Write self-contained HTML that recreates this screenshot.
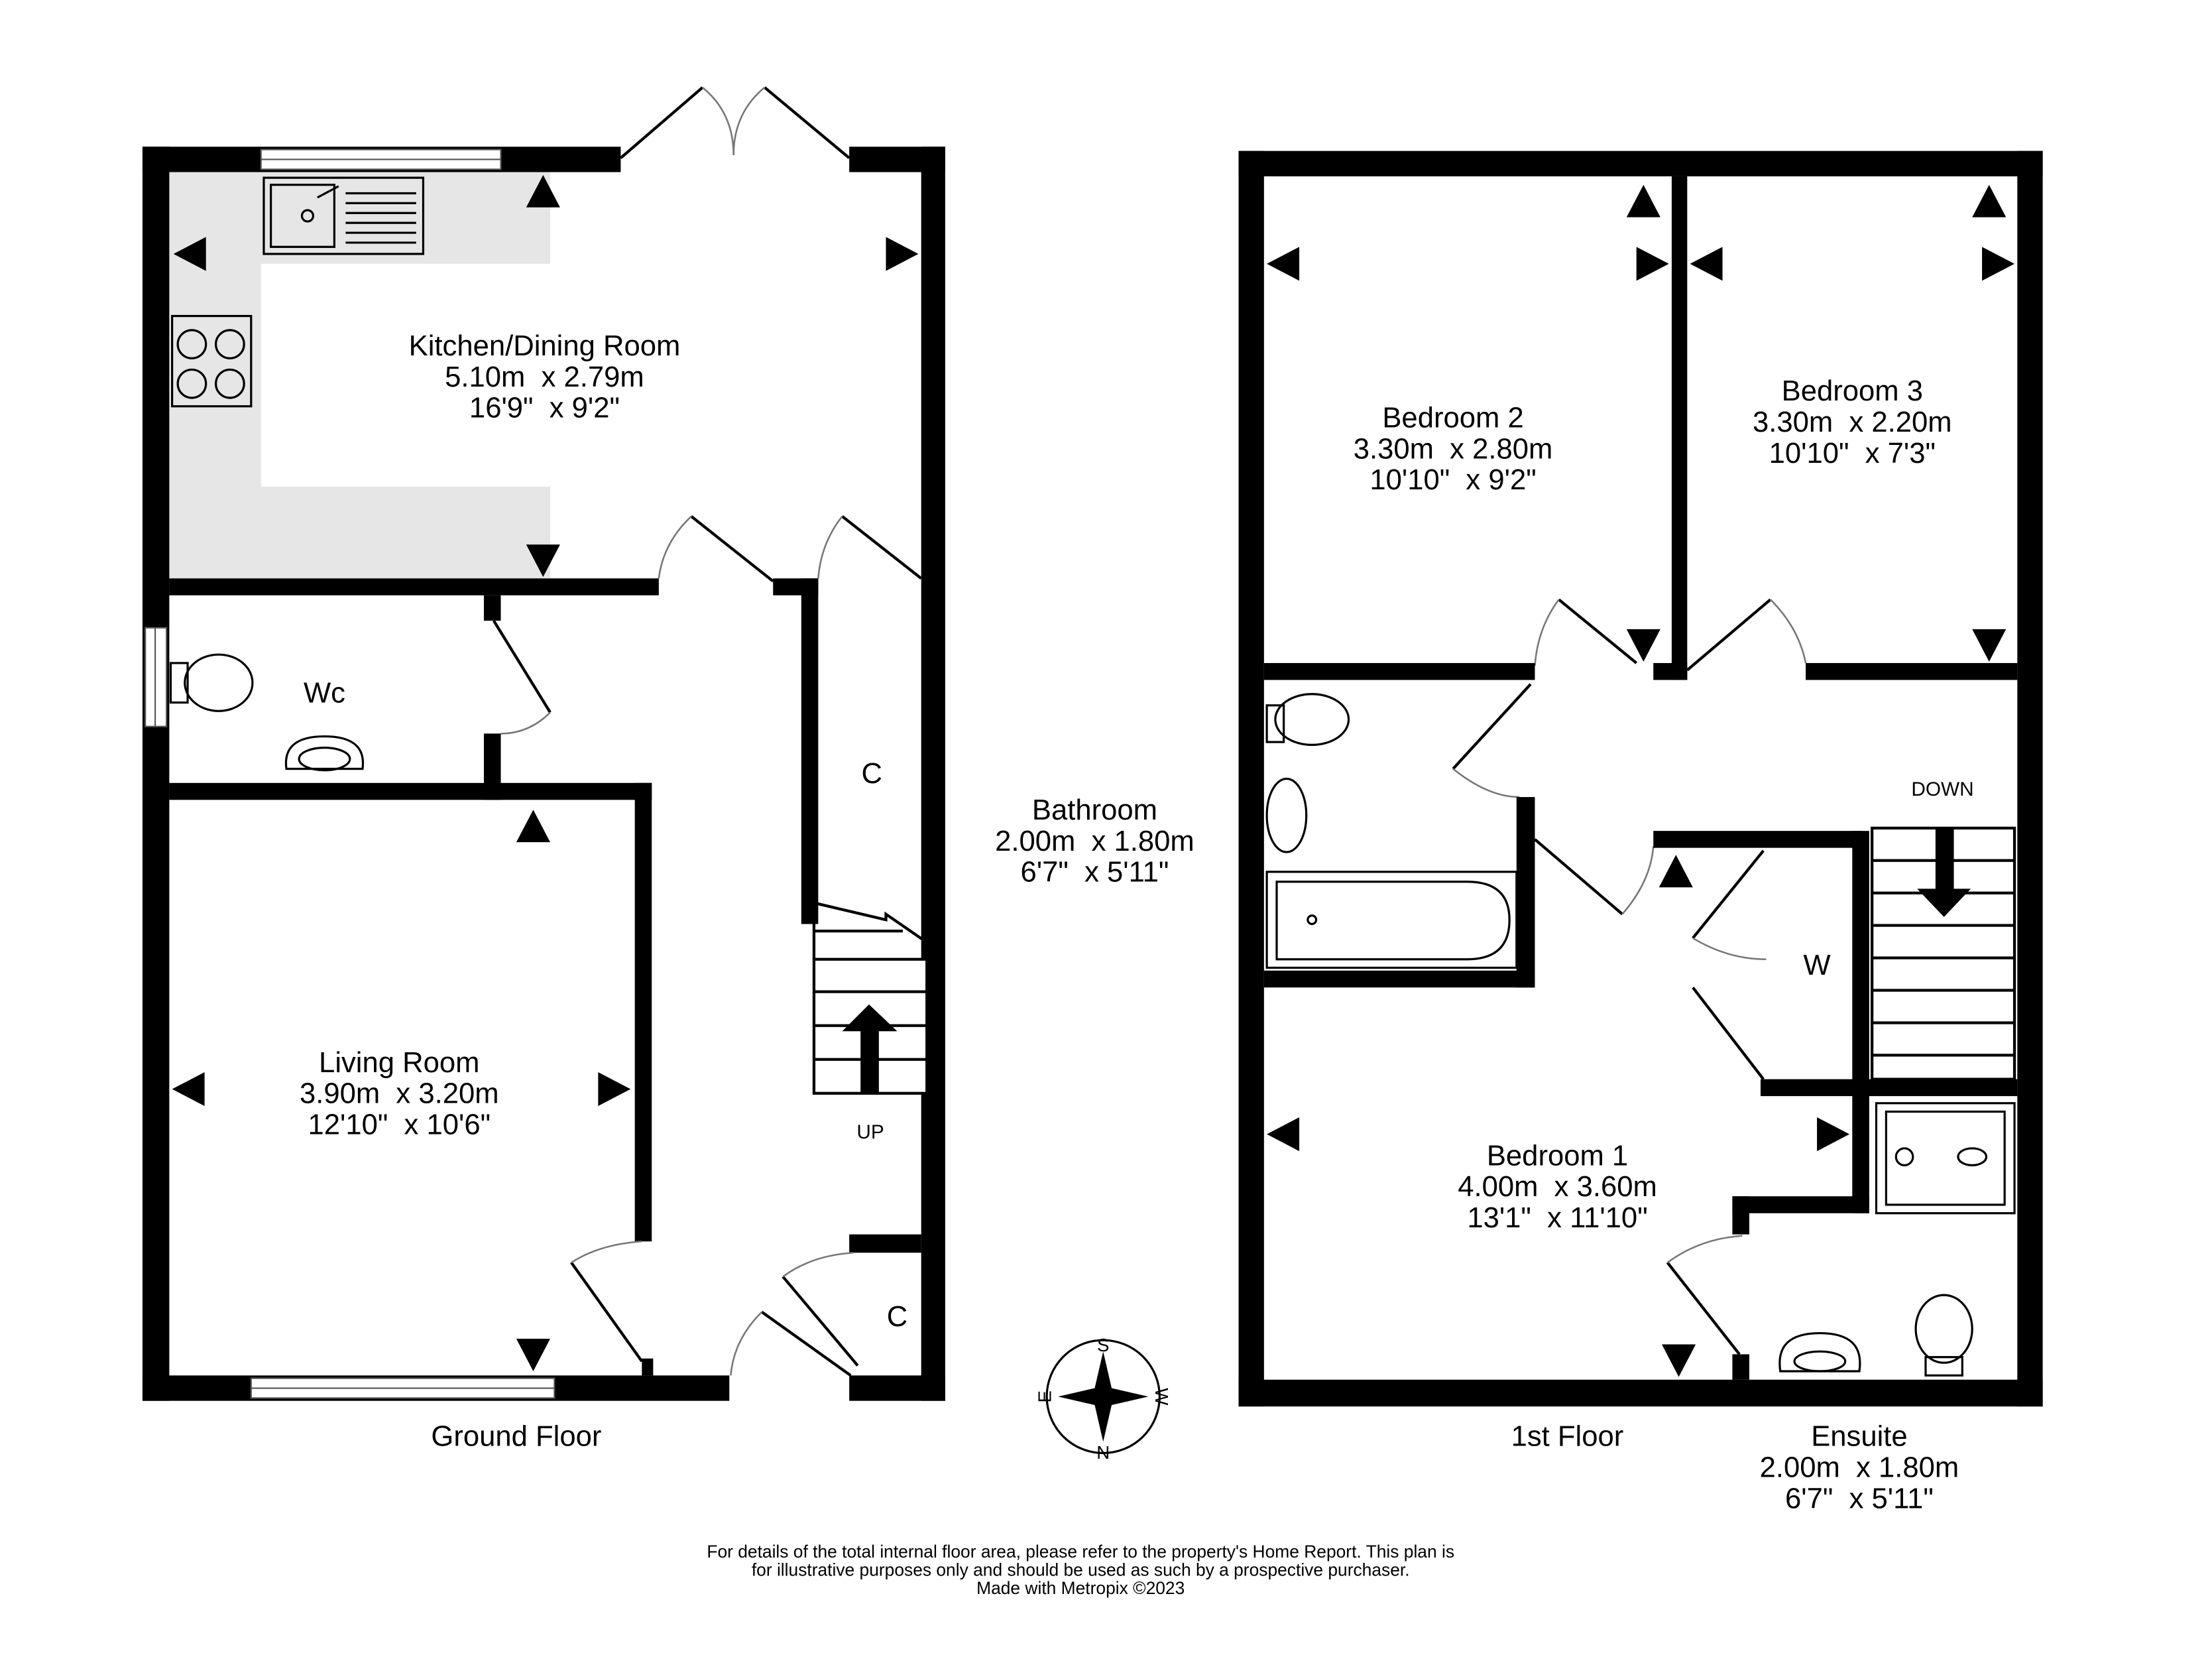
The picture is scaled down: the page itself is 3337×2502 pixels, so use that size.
<!DOCTYPE html>
<html><head><meta charset="utf-8"><style>
html,body{margin:0;padding:0;background:#fff;}
svg{display:block;}
text{font-family:"Liberation Sans",Arial,sans-serif;fill:#000;text-anchor:middle;white-space:pre;}
</style></head><body>
<svg width="3337" height="2502" viewBox="0 0 1568 1176" preserveAspectRatio="none" xmlns="http://www.w3.org/2000/svg">
<rect width="1568" height="1176" fill="#fff"/>
<!-- GROUND FLOOR -->
<path d="M120,122 H390 V410 H120 Z" fill="#e6e6e6"/>
<rect x="185" y="187" width="205" height="158" fill="#fff"/>
<g fill="#000">
<rect x="101" y="104" width="19" height="889"/>
<rect x="101" y="104" width="339" height="18"/>
<rect x="602" y="104" width="68" height="18"/>
<rect x="653" y="104" width="17" height="889"/>
<rect x="101" y="975" width="416" height="18"/>
<rect x="602" y="975" width="68" height="18"/>
<rect x="120" y="410" width="347" height="12"/>
<rect x="548" y="410" width="32" height="12"/>
<rect x="568" y="410" width="12" height="245"/>
<rect x="343" y="422" width="12" height="18"/>
<rect x="343" y="520" width="12" height="47"/>
<rect x="120" y="555" width="342" height="12"/>
<rect x="450" y="555" width="12" height="325"/>
<rect x="455" y="963" width="8" height="12"/>
<rect x="602" y="875" width="51" height="13"/>
</g>
<!-- windows -->
<g fill="#fff" stroke="#555" stroke-width="1">
<rect x="185" y="106" width="170" height="14"/><line x1="185" y1="113" x2="355" y2="113"/>
<rect x="178" y="977" width="215" height="14"/><line x1="178" y1="984" x2="393" y2="984"/>
<rect x="103" y="445" width="15" height="70"/><line x1="110" y1="445" x2="110" y2="515"/>
<rect x="972" y="109" width="145" height="14"/><line x1="972" y1="116" x2="1117" y2="116"/>
<rect x="1256" y="109" width="110" height="14"/><line x1="1256" y1="116" x2="1366" y2="116"/>
<rect x="983" y="980" width="147" height="15"/><line x1="983" y1="987" x2="1130" y2="987"/>
<rect x="1267" y="980" width="55" height="15"/><line x1="1267" y1="987" x2="1322" y2="987"/>
<rect x="880" y="543" width="15" height="74"/><line x1="887" y1="543" x2="887" y2="617"/>
</g>
<!-- doors -->
<g fill="none" stroke="#000" stroke-width="2">
<line x1="440" y1="112" x2="498" y2="62"/><line x1="602" y1="112" x2="542" y2="62"/>
<line x1="548" y1="412" x2="490" y2="366"/><line x1="653" y1="410" x2="597" y2="366"/>
<line x1="350" y1="440" x2="390" y2="505"/>
<line x1="405" y1="895" x2="455" y2="965"/>
<line x1="540" y1="930" x2="603" y2="975"/>
<line x1="555" y1="905" x2="608" y2="968"/>
<line x1="1160" y1="470" x2="1105" y2="425"/>
<line x1="1196" y1="475" x2="1255" y2="425"/>
<line x1="1085" y1="485" x2="1030" y2="545"/>
<line x1="1088" y1="595" x2="1150" y2="648"/>
<line x1="1250" y1="603" x2="1200" y2="665"/>
<line x1="1200" y1="700" x2="1250" y2="765"/>
<line x1="1182" y1="895" x2="1233" y2="960"/>
</g>
<g fill="none" stroke="#777" stroke-width="1.2">
<path d="M498,62 Q520,80 520,110"/><path d="M542,62 Q520,80 520,110"/>
<path d="M490,366 Q470,385 467,410"/><path d="M597,366 Q582,385 580,410"/>
<path d="M390,505 Q375,520 355,520"/>
<path d="M405,895 Q425,882 455,880"/>
<path d="M540,930 Q520,950 518,975"/>
<path d="M555,905 Q575,890 605,888"/>
<path d="M1105,425 Q1090,445 1088,472"/>
<path d="M1255,425 Q1275,445 1280,470"/>
<path d="M1030,545 Q1055,565 1077,565"/>
<path d="M1150,648 Q1170,625 1172,600"/>
<path d="M1200,665 Q1225,680 1252,680"/>
<path d="M1182,895 Q1205,878 1235,876"/>
</g>
<!-- sink, hob -->
<g fill="none" stroke="#000" stroke-width="1.5">
<rect x="187" y="126" width="113" height="54"/>
<rect x="192" y="131" width="45" height="44"/>
<circle cx="218" cy="153" r="4"/>
<line x1="225" y1="140" x2="240" y2="132"/>
<line x1="245" y1="137" x2="295" y2="137"/><line x1="245" y1="144" x2="295" y2="144"/><line x1="245" y1="151" x2="295" y2="151"/><line x1="245" y1="158" x2="295" y2="158"/><line x1="245" y1="165" x2="295" y2="165"/><line x1="245" y1="172" x2="295" y2="172"/>
<rect x="122" y="224" width="56" height="64"/>
<circle cx="136" cy="244" r="10"/><circle cx="163" cy="244" r="10"/><circle cx="136" cy="272" r="10"/><circle cx="163" cy="272" r="10"/>
<!-- wc -->
<rect x="121" y="470" width="12" height="28"/>
<ellipse cx="155" cy="484" rx="24" ry="20"/>
<path d="M203,545 Q200,522 230,522 Q260,522 257,545 Z"/>
<ellipse cx="230" cy="538" rx="18" ry="8"/>
<!-- 1st floor bath fixtures -->
<rect x="898" y="500" width="12" height="26"/>
<ellipse cx="930" cy="510" rx="26" ry="18"/>
<ellipse cx="912" cy="578" rx="14" ry="26"/>
<rect x="898" y="618" width="177" height="68"/>
<path d="M905,625 H1040 Q1070,625 1070,652 Q1070,680 1040,680 H905 Z"/>
<circle cx="930" cy="652" r="3"/>
<rect x="1330" y="782" width="98" height="78"/>
<rect x="1337" y="788" width="84" height="66"/>
<circle cx="1350" cy="820" r="6"/>
<ellipse cx="1398" cy="820" rx="10" ry="6"/>
<path d="M1262,972 Q1258,945 1290,945 Q1322,945 1318,972 Z"/>
<ellipse cx="1290" cy="965" rx="18" ry="7"/>
<ellipse cx="1378" cy="942" rx="20" ry="24"/>
<rect x="1365" y="962" width="26" height="13"/>
</g>
<!-- ground stairs -->
<g fill="none" stroke="#000" stroke-width="2">
<path d="M577,640 L628,652 L628,648 L657,668"/>
<rect x="577" y="680" width="80" height="95" fill="#fff"/>
<line x1="577" y1="640" x2="577" y2="680"/>
<line x1="577" y1="660" x2="640" y2="660"/>
<line x1="577" y1="703" x2="657" y2="703"/><line x1="577" y1="727" x2="657" y2="727"/><line x1="577" y1="751" x2="657" y2="751"/>
</g>
<rect x="610" y="730" width="13" height="45" fill="#000"/>
<polygon points="597,731 616,712 636,731" fill="#000"/>
<!-- FIRST FLOOR walls -->
<g fill="#000">
<rect x="878" y="107" width="18" height="890"/>
<rect x="878" y="107" width="570" height="18"/>
<rect x="1430" y="107" width="18" height="890"/>
<rect x="878" y="978" width="570" height="19"/>
<rect x="1185" y="125" width="11" height="357"/>
<rect x="896" y="470" width="192" height="12"/>
<rect x="1172" y="470" width="24" height="12"/>
<rect x="1280" y="470" width="150" height="12"/>
<rect x="1075" y="565" width="13" height="135"/>
<rect x="896" y="688" width="192" height="12"/>
<rect x="1172" y="589" width="148" height="12"/>
<rect x="1313" y="589" width="12" height="271"/>
<rect x="1248" y="765" width="182" height="12"/>
<rect x="1228" y="848" width="97" height="12"/>
<rect x="1228" y="848" width="12" height="27"/>
<rect x="1228" y="960" width="12" height="18"/>
</g>
<g fill="none" stroke="#000" stroke-width="2">
<rect x="1327" y="587" width="101" height="178"/>
<line x1="1327" y1="610" x2="1428" y2="610"/><line x1="1327" y1="633" x2="1428" y2="633"/><line x1="1327" y1="656" x2="1428" y2="656"/><line x1="1327" y1="679" x2="1428" y2="679"/><line x1="1327" y1="702" x2="1428" y2="702"/><line x1="1327" y1="725" x2="1428" y2="725"/><line x1="1327" y1="748" x2="1428" y2="748"/>
</g>
<rect x="1372" y="587" width="13" height="45" fill="#000"/>
<polygon points="1359,630 1378,650 1397,630" fill="#000"/>
<!-- arrows -->
<g fill="#000">
<polygon points="123,180 146,168 146,192"/>
<polygon points="651,180 628,168 628,192"/>
<polygon points="385,124 373,147 397,147"/>
<polygon points="385,409 373,386 397,386"/>
<polygon points="378,574 366,597 390,597"/>
<polygon points="378,972 366,949 390,949"/>
<polygon points="122,772 145,760 145,784"/>
<polygon points="447,772 424,760 424,784"/>
<polygon points="898,187 921,175 921,199"/>
<polygon points="1183,187 1160,175 1160,199"/>
<polygon points="1198,187 1221,175 1221,199"/>
<polygon points="1428,187 1405,175 1405,199"/>
<polygon points="1165,131 1153,154 1177,154"/>
<polygon points="1165,469 1153,446 1177,446"/>
<polygon points="1410,131 1398,154 1422,154"/>
<polygon points="1410,469 1398,446 1422,446"/>
<polygon points="1188,606 1176,629 1200,629"/>
<polygon points="898,804 921,792 921,816"/>
<polygon points="1311,804 1288,792 1288,816"/>
<polygon points="1190,976 1178,953 1202,953"/>
</g>
<!-- compass -->
<g>
<circle cx="782" cy="990" r="40" fill="none" stroke="#000" stroke-width="1.5"/>
<polygon points="782,958 788,984 814,990 788,996 782,1022 776,996 750,990 776,984" fill="#000"/>
<text x="782" y="958" font-size="13">S</text>
<text x="782" y="1034" font-size="13">N</text>
<text x="823" y="994" font-size="13" transform="rotate(90 823 990)">W</text>
<text x="741" y="994" font-size="13" transform="rotate(-90 741 990)">E</text>
</g>
<!-- labels -->
<g font-size="20.5">
<text x="386" y="252">Kitchen/Dining Room</text>
<text x="386" y="274">5.10m  x 2.79m</text>
<text x="386" y="296">16'9"  x 9'2"</text>
<text x="230" y="498">Wc</text>
<text x="283" y="760">Living Room</text>
<text x="283" y="782">3.90m  x 3.20m</text>
<text x="283" y="804">12'10"  x 10'6"</text>
<text x="618" y="555">C</text>
<text x="636" y="940">C</text>
<text x="366" y="1025">Ground Floor</text>
<text x="776" y="581">Bathroom</text>
<text x="776" y="603">2.00m  x 1.80m</text>
<text x="776" y="625">6'7"  x 5'11"</text>
<text x="1030" y="303">Bedroom 2</text>
<text x="1030" y="325">3.30m  x 2.80m</text>
<text x="1030" y="347">10'10"  x 9'2"</text>
<text x="1313" y="284">Bedroom 3</text>
<text x="1313" y="306">3.30m  x 2.20m</text>
<text x="1313" y="328">10'10"  x 7'3"</text>
<text x="1288" y="691">W</text>
<text x="1104" y="826">Bedroom 1</text>
<text x="1104" y="848">4.00m  x 3.60m</text>
<text x="1104" y="870">13'1"  x 11'10"</text>
<text x="1111" y="1025">1st Floor</text>
<text x="1318" y="1025">Ensuite</text>
<text x="1318" y="1047">2.00m  x 1.80m</text>
<text x="1318" y="1069">6'7"  x 5'11"</text>
</g>
<text x="617" y="807" font-size="14">UP</text>
<text x="1377" y="564" font-size="14">DOWN</text>
<g font-size="12.4">
<text x="766" y="1104">For details of the total internal floor area, please refer to the property's Home Report. This plan is</text>
<text x="766" y="1117">for illustrative purposes only and should be used as such by a prospective purchaser.</text>
<text x="766" y="1130">Made with Metropix ©2023</text>
</g>
</svg>
</body></html>
